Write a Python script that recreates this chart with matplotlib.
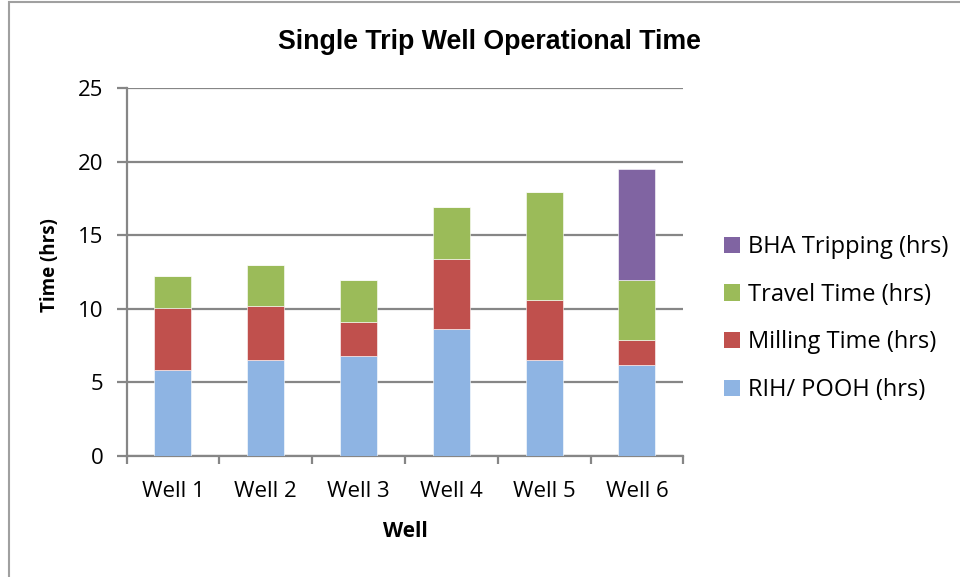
import matplotlib.pyplot as plt
from matplotlib.patches import Rectangle, Patch
import numpy as np

wells = ["Well 1", "Well 2", "Well 3", "Well 4", "Well 5", "Well 6"]
rih_pooh = [5.85, 6.5, 6.8, 8.6, 6.5, 6.15]
milling = [4.2, 3.7, 2.3, 4.8, 4.1, 1.75]
travel = [2.2, 2.75, 2.85, 3.5, 7.35, 4.05]
bha = [0, 0, 0, 0, 0, 7.55]

series = [
    ("RIH/ POOH (hrs)", rih_pooh, "#8eb4e3"),
    ("Milling Time (hrs)", milling, "#c0504d"),
    ("Travel Time (hrs)", travel, "#9bbb59"),
    ("BHA Tripping (hrs)", bha, "#8064a2"),
]

plt.rcParams['font.family'] = ['Open Sans', 'DejaVu Sans']
grey = "#868686"

fig = plt.figure(figsize=(9.6, 5.77), dpi=100)
ax = fig.add_axes([0.1318, 0.2097, 0.5800, 0.6378])

x = np.arange(len(wells))
bottom = np.zeros(len(wells))
handles = []
for label, vals, col in series:
    ax.bar(x, vals, 0.4, bottom=bottom, color=col, edgecolor="white", linewidth=0.4, zorder=3)
    bottom += np.array(vals)
    handles.append(Patch(facecolor=col, label=label))

ax.set_xlim(-0.5, len(wells) - 0.5)
ax.set_ylim(0, 25)
ax.set_yticks(range(0, 26, 5))
ax.yaxis.grid(True, color=grey, linewidth=1.6, zorder=0)
ax.set_xticks(x)
ax.set_xticklabels(wells, fontsize=16)
ax.set_xticks(np.arange(-0.5, len(wells)), minor=True)
ax.tick_params(axis="x", which="major", length=0, pad=18)
ax.tick_params(axis="x", which="minor", length=6, width=1.6, color=grey)
ax.tick_params(axis="y", length=7, width=1.6, color=grey, labelsize=16, pad=9.5)

for side in ["top", "right"]:
    ax.spines[side].set_visible(False)
for side in ["left", "bottom"]:
    ax.spines[side].set_color(grey)
    ax.spines[side].set_linewidth(1.6)

ax.set_ylabel("Time (hrs)", fontsize=13.5, fontweight="bold")
ax.yaxis.set_label_coords(-0.119, 0.519)
ax.set_xlabel("Well", fontsize=15, fontweight="bold")
ax.xaxis.set_label_coords(0.50, -0.176)
fig.text(0.51, 0.927, "Single Trip Well Operational Time", ha="center", va="center",
         fontsize=19.3, fontweight="bold", family="Liberation Sans")

fig.legend(handles=handles[::-1], loc="center left", bbox_to_anchor=(0.754, 0.448),
           frameon=False, fontsize=17, handlelength=0.68, handleheight=0.68,
           handletextpad=0.34, labelspacing=1.0, borderpad=0, borderaxespad=0)

fig.patches.append(Rectangle((0.009, -0.1), 1.2, 1.097, transform=fig.transFigure,
                             fill=False, edgecolor="#a0a0a0", linewidth=1.5))

fig.savefig("out.png", dpi=100)
